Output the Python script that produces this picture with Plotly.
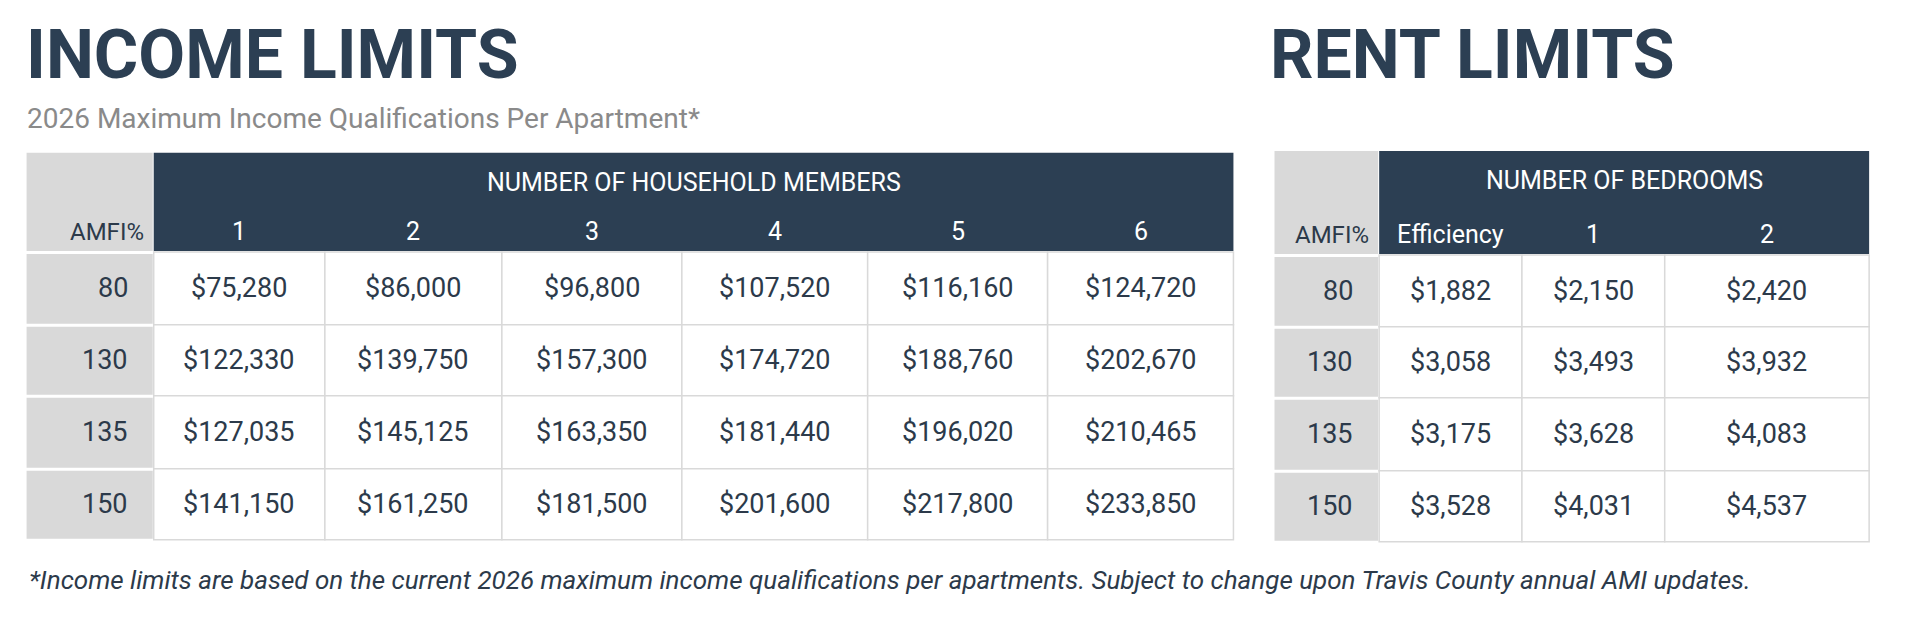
import plotly.graph_objects as go

amfi = ["80", "130", "135", "150"]
household_members = ["1", "2", "3", "4", "5", "6"]
income = [
    ["$75,280", "$86,000", "$96,800", "$107,520", "$116,160", "$124,720"],
    ["$122,330", "$139,750", "$157,300", "$174,720", "$188,760", "$202,670"],
    ["$127,035", "$145,125", "$163,350", "$181,440", "$196,020", "$210,465"],
    ["$141,150", "$161,250", "$181,500", "$201,600", "$217,800", "$233,850"],
]
bedrooms = ["Efficiency", "1", "2"]
rent = [
    ["$1,882", "$2,150", "$2,420"],
    ["$3,058", "$3,493", "$3,932"],
    ["$3,175", "$3,628", "$4,083"],
    ["$3,528", "$4,031", "$4,537"],
]

NAVY = "#2c3f53"
GRAY = "#d9d9d9"
TXT = "#2c3a4a"
FONT = "Liberation Sans Narrow, Roboto, Arial"
SX, SY = 0.978, 0.972

fig = go.Figure()
shapes, ann = [], []

def X(v): return v * SX
def Y(v): return v * SY

def table(x0, gray_end, cols, y_top, y_hdr, rows, group_title, col_labels, data):
    x0, gray_end = X(x0), X(gray_end)
    cols = [X(c) for c in cols]
    y_top, y_hdr = Y(y_top), Y(y_hdr)
    rows = [Y(r) for r in rows]
    shapes.append(dict(type="rect", x0=x0, x1=gray_end - 1, y0=y_top, y1=y_hdr - 1, fillcolor=GRAY, line_width=0, layer="below"))
    shapes.append(dict(type="rect", x0=gray_end, x1=cols[-1], y0=y_top, y1=y_hdr - 1, fillcolor=NAVY, line_width=0, layer="below"))
    ann.append(dict(x=gray_end - 8, y=y_hdr - 20, text="AMFI%", xanchor="right", yanchor="middle", showarrow=False, font=dict(size=24, color=TXT, family=FONT)))
    ann.append(dict(x=(gray_end + cols[-1]) / 2, y=y_top + 30, text=group_title, xanchor="center", yanchor="middle", showarrow=False, font=dict(size=25, color="white", family=FONT)))
    for j, lab in enumerate(col_labels):
        ann.append(dict(x=(cols[j] + cols[j + 1]) / 2, y=y_hdr - 20, text=lab, xanchor="center", yanchor="middle", showarrow=False, font=dict(size=25, color="white", family=FONT)))
    for i, lab in enumerate(amfi):
        ya, yb = rows[i], rows[i + 1]
        shapes.append(dict(type="rect", x0=x0, x1=gray_end - 1, y0=ya + 2, y1=yb - 1, fillcolor=GRAY, line_width=0, layer="below"))
        ann.append(dict(x=gray_end - 24, y=(ya + yb) / 2, text=lab, xanchor="right", yanchor="middle", showarrow=False, font=dict(size=27, color=TXT, family=FONT)))
        for j in range(len(col_labels)):
            shapes.append(dict(type="rect", x0=cols[j], x1=cols[j + 1], y0=ya, y1=yb, fillcolor="white", line=dict(color=GRAY, width=1.5), layer="below"))
            ann.append(dict(x=(cols[j] + cols[j + 1]) / 2, y=(ya + yb) / 2, text=data[i][j], xanchor="center", yanchor="middle", showarrow=False, font=dict(size=27, color=TXT, family=FONT)))

table(19, 149, [149, 324, 505, 689, 879, 1063, 1253], 149, 251, [251, 326, 399, 474, 547],
      "NUMBER OF HOUSEHOLD MEMBERS", household_members, income)
table(1295, 1402, [1402, 1548, 1694, 1903], 147, 254, [254, 328, 401, 476, 549],
      "NUMBER OF BEDROOMS", bedrooms, rent)

ann += [
    dict(x=X(16), y=Y(48), text="<b>INCOME LIMITS</b>", xanchor="left", yanchor="middle", showarrow=False, font=dict(size=68, color=NAVY, family=FONT)),
    dict(x=X(1288), y=Y(48), text="<b>RENT LIMITS</b>", xanchor="left", yanchor="middle", showarrow=False, font=dict(size=68, color=NAVY, family=FONT)),
    dict(x=X(17), y=Y(114), text="2026 Maximum Income Qualifications Per Apartment*", xanchor="left", yanchor="middle", showarrow=False, font=dict(size=28, color="#8a8a8a", family=FONT)),
    dict(x=X(19), y=Y(588), text="<i>*Income limits are based on the current 2026 maximum income qualifications per apartments. Subject to change upon Travis County annual AMI updates.</i>",
         xanchor="left", yanchor="middle", showarrow=False, font=dict(size=26, color=TXT, family=FONT)),
]

fig.update_layout(width=1920, height=622, margin=dict(l=0, r=0, t=0, b=0),
                  paper_bgcolor="white", plot_bgcolor="white", shapes=shapes, annotations=ann,
                  xaxis=dict(range=[0, 1920], visible=False, fixedrange=True),
                  yaxis=dict(range=[622, 0], visible=False, fixedrange=True), showlegend=False)
fig.write_html("out.html")
